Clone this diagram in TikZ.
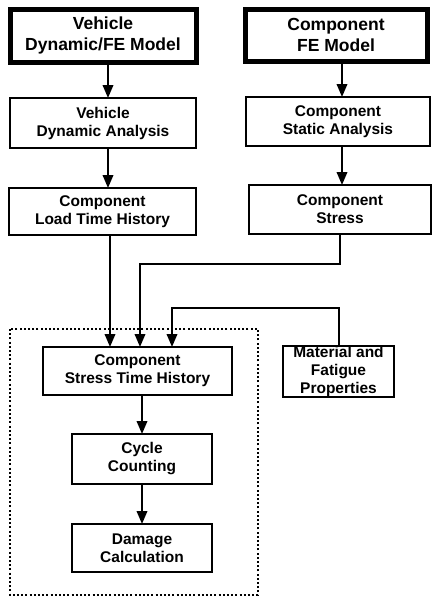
\documentclass[tikz,border=0pt]{standalone}
\usepackage{fontspec}
\setmainfont{Liberation Sans}
\usetikzlibrary{positioning,calc,arrows.meta}

\tikzset{
    stagebox/.style = {draw, line width = 2pt, outer sep = 0pt, align = center, inner sep = 0pt,
        font = \bfseries\fontsize{15.5}{18}\selectfont},
    modelbox/.style = {stagebox, line width = 5pt, font = \bfseries\fontsize{17.5}{20.5}\selectfont},
    flow/.style = {line width = 2pt, -{Triangle[width = 10.5pt, length = 13pt]}},
}

\begin{document}
\begin{tikzpicture}[x = 1pt, y = -1pt]

        \useasboundingbox (0, 0) rectangle (433, 598);

        % draw model boxes
        \node[modelbox, minimum width = 186, minimum height = 53] (vehModel) at (103, 35.5) {Vehicle\\Dynamic/FE Model};
        \node[modelbox, minimum width = 182, minimum height = 52] (compModel) at (336, 35) {Component\\FE Model};

        % draw analysis boxes
        \node[stagebox, minimum width = 186, minimum height = 50] (vehDyn) at (103, 123) {Vehicle\\Dynamic Analysis};
        \node[stagebox, minimum width = 184, minimum height = 49] (compStatic) at (338, 121.5) {Component\\Static Analysis};
        \node[stagebox, minimum width = 187, minimum height = 47] (compLoad) at (102.5, 211.5) {Component\\Load Time History};
        \node[stagebox, minimum width = 182, minimum height = 49] (compStress) at (340, 209.5) {Component\\Stress};

        % draw fatigue boxes
        \node[stagebox, minimum width = 189, minimum height = 48] (compStressTH) at (137.5, 371) {Component\\Stress Time History};
        \node[stagebox, minimum width = 111, minimum height = 51] (matProp) at (338.5, 371.5) {Material and\\Fatigue\\Properties};
        \node[stagebox, minimum width = 140, minimum height = 50] (cycleCount) at (142, 459) {Cycle\\Counting};
        \node[stagebox, minimum width = 140, minimum height = 48] (damageCalc) at (142, 548) {Damage\\Calculation};

        % draw connectors
        \draw[flow] ($(vehModel.south) + (5, 0)$) to ($(vehDyn.north) + (5, 0)$);
        \draw[flow] ($(vehDyn.south) + (5, 0)$) to ($(compLoad.north) + (5.5, 0)$);
        \draw[flow] ($(compModel.south) + (6, 0)$) to ($(compStatic.north) + (4, 0)$);
        \draw[flow] ($(compStatic.south) + (4, 0)$) to ($(compStress.north) + (2, 0)$);

        \draw[flow] ($(compLoad.south) + (7.5, 0)$) to ($(compStressTH.north) + (-27.5, 0)$);
        \draw[flow] (compStress.south) -- ++(0, 30) -| ($(compStressTH.north) + (2.5, 0)$);
        \draw[flow] (matProp.north) -- ++(0, -38) -| ($(compStressTH.north) + (34.5, 0)$);

        \draw[flow] ($(compStressTH.south) + (4.5, 0)$) to (cycleCount.north);
        \draw[flow] (cycleCount.south) to (damageCalc.north);

        % draw fatigue analysis border
        \draw[line width = 1.2pt, dash pattern = on 2pt off 2.2pt] (10, 329) rectangle (258, 595);

    \end{tikzpicture}
\end{document}
